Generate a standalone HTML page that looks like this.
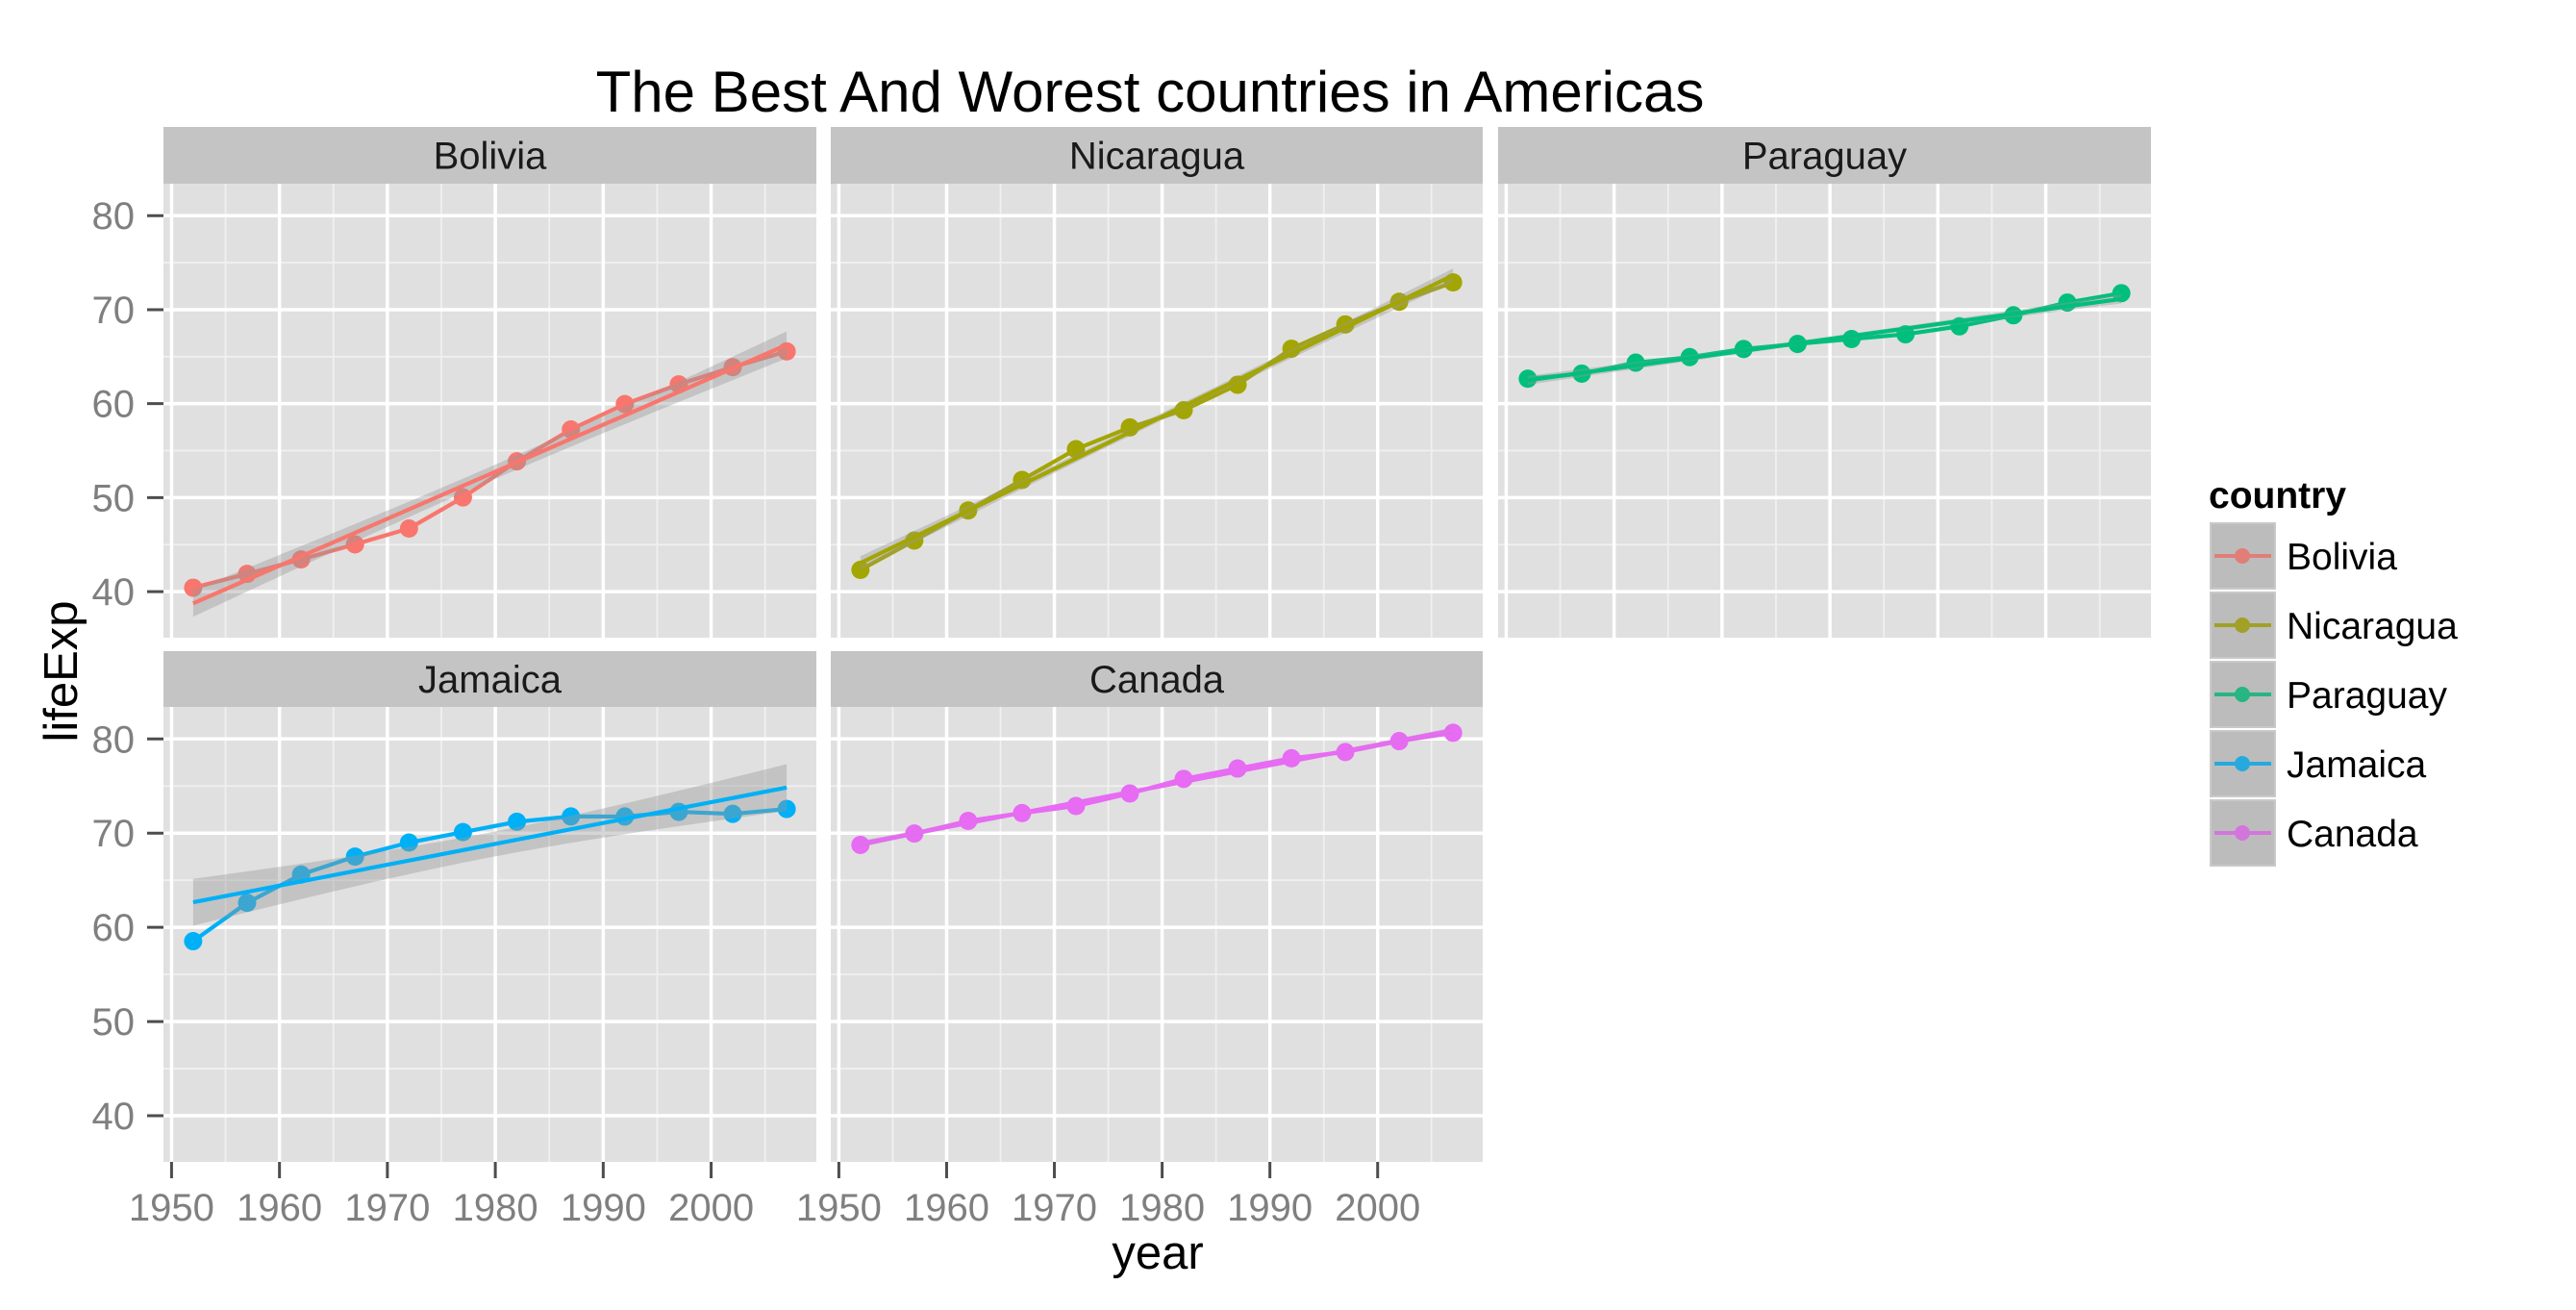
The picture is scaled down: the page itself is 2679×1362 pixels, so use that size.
<!DOCTYPE html>
<html><head><meta charset="utf-8">
<style>
html,body{margin:0;padding:0;background:#fff;}
svg{display:block;font-family:"Liberation Sans",Arial,sans-serif;}
</style></head>
<body>
<svg id="chart" width="2679" height="1362" viewBox="0 0 2679 1362" xmlns="http://www.w3.org/2000/svg">
<rect width="2679" height="1362" fill="#ffffff"/>
<text x="1196" y="116" font-size="60" text-anchor="middle" fill="#000">The Best And Worest countries in Americas</text>
<g id="panels"></g>
<text x="1204" y="1319" font-size="49" text-anchor="middle" fill="#000">year</text>
<text transform="translate(80,698) rotate(-90)" font-size="49" text-anchor="middle" fill="#000">lifeExp</text>
<g id="legend"></g>
</svg>
<script>
const years = [1952,1957,1962,1967,1972,1977,1982,1987,1992,1997,2002,2007];
const countries = ["Bolivia","Nicaragua","Paraguay","Jamaica","Canada"];
const colors = ["#F8766D","#A3A500","#00BF7D","#00B0F6","#E76BF3"];
const boliviaLife = [40.414,41.89,43.428,45.032,46.714,50.023,53.859,57.251,59.957,62.05,63.883,65.554];
const nicaraguaLife = [42.314,45.432,48.632,51.884,55.151,57.47,59.298,62.008,65.843,68.426,70.836,72.899];
const paraguayLife = [62.649,63.196,64.361,64.951,65.815,66.353,66.874,67.378,68.225,69.4,70.755,71.752];
const jamaicaLife = [58.53,62.61,65.61,67.51,69.0,70.11,71.21,71.77,71.766,72.262,72.047,72.567];
const canadaLife = [68.75,69.96,71.3,72.13,72.88,74.21,75.76,76.86,77.95,78.61,79.77,80.653];
const xTicks = [1950,1960,1970,1980,1990,2000];
const yTicks = [40,50,60,70,80];
const series = [boliviaLife,nicaraguaLife,paraguayLife,jamaicaLife,canadaLife];

const NS="http://www.w3.org/2000/svg";
function mk(tag,attrs,parent){const e=document.createElementNS(NS,tag);for(const k in attrs)e.setAttribute(k,attrs[k]);parent.appendChild(e);return e;}
const cols=[[170,849],[864,1542],[1558,2237]];
const rows=[[132,191,663],[677,735,1208]];
const xDom=[1949.25,2009.75], yDom=[35.1,83.4];
const panelsG=document.getElementById('panels');

series.forEach((vals,i)=>{
  const c=i%3, r=Math.floor(i/3);
  const [x0,x1]=cols[c]; const [st,y0,y1]=rows[r];
  const sx=v=>x0+(v-xDom[0])/(xDom[1]-xDom[0])*(x1-x0);
  const sy=v=>y1-(v-yDom[0])/(yDom[1]-yDom[0])*(y1-y0);
  const g=mk('g',{},panelsG);
  
  
  const strip=mk('rect',{x:x0,y:st,width:x1-x0,height:y0-st,fill:'#C4C4C4'},g);
  
  
  const stxt=mk('text',{x:(x0+x1)/2,y:(st+y0)/2+14,'font-size':40,'text-anchor':'middle',fill:'#1a1a1a'},g);
  stxt.textContent=countries[i];
  
  
  const bg=mk('rect',{x:x0,y:y0,width:x1-x0,height:y1-y0,fill:'#E0E0E0'},g);
  
  
  for(let v=1945;v<=2010;v+=10){if(v>xDom[0]&&v<xDom[1])mk('line',{x1:sx(v),x2:sx(v),y1:y0,y2:y1,stroke:'#F0F0F0','stroke-width':1.8},g);}
  for(let v=35;v<=85;v+=10){if(v>yDom[0]&&v<yDom[1])mk('line',{x1:x0,x2:x1,y1:sy(v),y2:sy(v),stroke:'#F0F0F0','stroke-width':1.8},g);}
  xTicks.forEach(v=>mk('line',{x1:sx(v),x2:sx(v),y1:y0,y2:y1,stroke:'#fff','stroke-width':3.5},g));
  yTicks.forEach(v=>mk('line',{x1:x0,x2:x1,y1:sy(v),y2:sy(v),stroke:'#fff','stroke-width':3.5},g));
  if(c===0){
    yTicks.forEach(v=>{
      mk('line',{x1:x0-17,x2:x0,y1:sy(v),y2:sy(v),stroke:'#4D4D4D','stroke-width':3},g);
      const t=mk('text',{x:x0-30,y:sy(v)+14,'font-size':40,'text-anchor':'end',fill:'#7F7F7F'},g);
      t.textContent=v;
      
      
    });
  }
  if(r===1){
    xTicks.forEach(v=>{
      mk('line',{x1:sx(v),x2:sx(v),y1:y1,y2:y1+17,stroke:'#4D4D4D','stroke-width':3},g);
      const t=mk('text',{x:sx(v),y:y1+61,'font-size':40,'text-anchor':'middle',fill:'#7F7F7F'},g);
      t.textContent=v;
      
      
    });
  }
  const pts=years.map((y,k)=>sx(y)+','+sy(vals[k])).join(' ');
  const pl=mk('polyline',{points:pts,fill:'none',stroke:colors[i],'stroke-width':4.2,'stroke-linejoin':'round'},g);
  
  
  years.forEach((y,k)=>{
    const p=mk('circle',{cx:sx(y),cy:sy(vals[k]),r:9.5,fill:colors[i]},g);
    
    
  });
  const n=years.length; const mx=years.reduce((a,b)=>a+b)/n; const my=vals.reduce((a,b)=>a+b)/n;
  let sxx=0,sxy=0; years.forEach((x,k)=>{sxx+=(x-mx)**2;sxy+=(x-mx)*(vals[k]-my);});
  const b=sxy/sxx, a=my-b*mx; let sse=0; years.forEach((x,k)=>{sse+=(vals[k]-a-b*x)**2;});
  const s=Math.sqrt(sse/(n-2)); const tq=2.228;
  const up=[],lo=[];
  for(let j=0;j<=80;j++){const x=years[0]+(years[n-1]-years[0])*j/80; const f=a+b*x; const se=s*Math.sqrt(1/n+(x-mx)**2/sxx);
    up.push(sx(x)+','+sy(f+tq*se)); lo.unshift(sx(x)+','+sy(f-tq*se));}
  const band=mk('polygon',{points:up.concat(lo).join(' '),fill:'#999999','fill-opacity':0.4},g);
  
  
  const fit=mk('line',{x1:sx(years[0]),y1:sy(a+b*years[0]),x2:sx(years[n-1]),y2:sy(a+b*years[n-1]),stroke:colors[i],'stroke-width':4.2},g);
  
  
});

const lg=document.getElementById('legend');


const lt=mk('text',{x:2297,y:528,'font-size':39,'font-weight':'bold',fill:'#000'},lg);
lt.textContent='country';


countries.forEach((nm,i)=>{
  const y=542+i*72;
  const e=mk('g',{},lg);
  
  
  mk('rect',{x:2297,y:y,width:71,height:72,fill:'#C9C9C9',stroke:'#fff','stroke-width':2},e);
  mk('line',{x1:2303,x2:2362,y1:y+36,y2:y+36,stroke:colors[i],'stroke-width':4},e);
  mk('circle',{cx:2332,cy:y+36,r:8,fill:colors[i]},e);
  mk('rect',{x:2300,y:y+3,width:65,height:66,fill:'#999','fill-opacity':0.25},e);
  const t=mk('text',{x:2378,y:y+50,'font-size':39,fill:'#000'},e);
  t.textContent=nm;
});
</script>
</body></html>
